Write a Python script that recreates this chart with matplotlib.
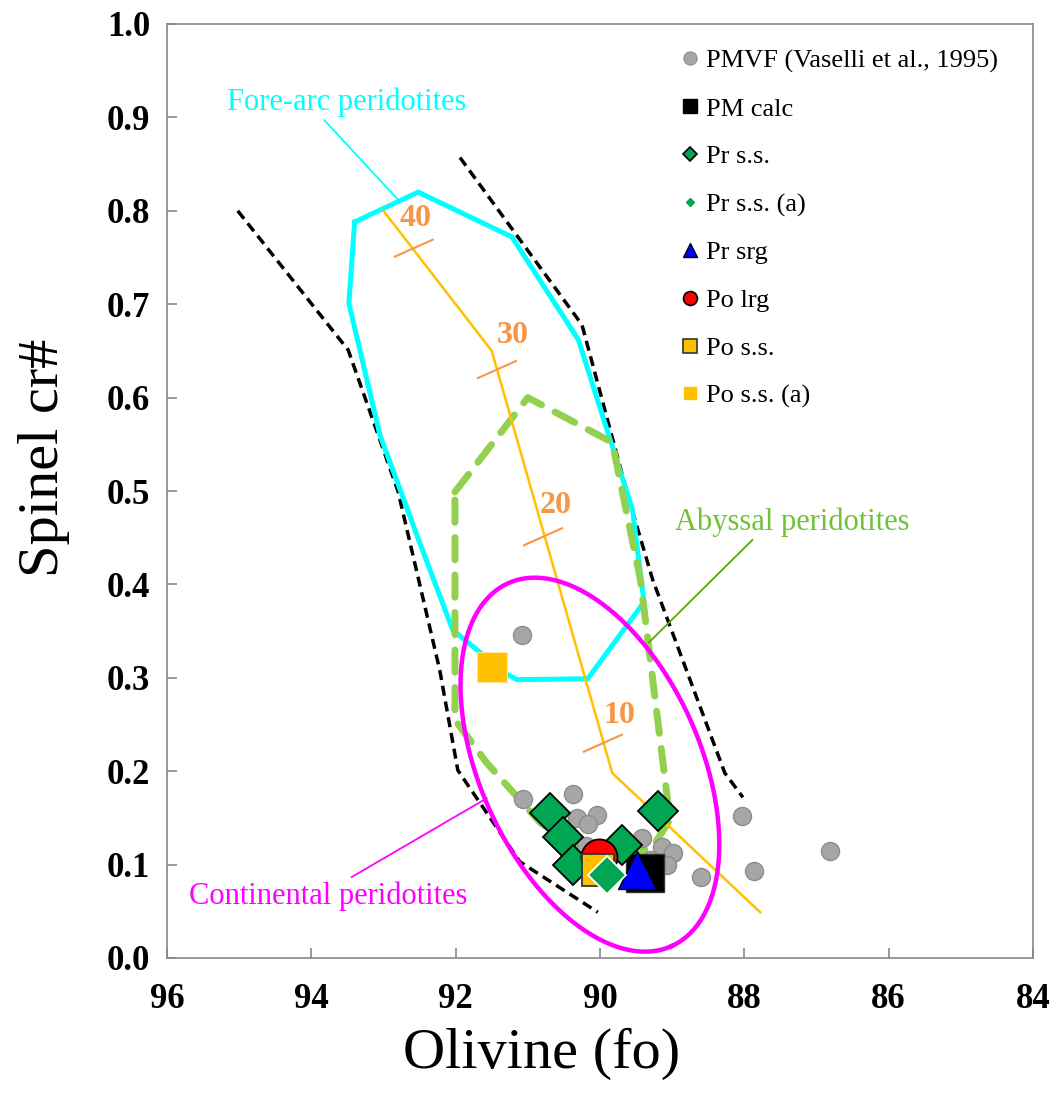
import numpy as np
import matplotlib
matplotlib.use("Agg")
import matplotlib.pyplot as plt
from matplotlib.lines import Line2D

plt.rcParams['font.family'] = ['Liberation Serif', 'DejaVu Serif']

# ---------------- data ----------------
fo_pmvf = [91.08, 91.07, 90.37, 90.32, 90.04, 90.17, 89.42, 89.14, 88.99, 89.07, 88.60, 88.03, 87.87, 86.81, 90.20, 89.30]
cr_pmvf = [0.346, 0.170, 0.176, 0.150, 0.153, 0.143, 0.128, 0.119, 0.112, 0.100, 0.087, 0.152, 0.093, 0.115, 0.120, 0.105]

fo_pm_calc = [89.38]
cr_pm_calc = [0.091]

fo_pr_ss = [90.69, 90.51, 90.37, 89.70, 89.20]
cr_pr_ss = [0.155, 0.130, 0.100, 0.121, 0.157]

fo_pr_ss_a = [89.90]
cr_pr_ss_a = [0.089]

fo_pr_srg = [89.49]
cr_pr_srg = [0.094]

fo_po_lrg = [90.01]
cr_po_lrg = [0.108]

fo_po_ss = [90.03]
cr_po_ss = [0.094]

fo_po_ss_a = [91.50]
cr_po_ss_a = [0.312]

# field boundaries (olivine fo, spinel cr#)
olm_left_fo = [95.02, 93.49, 92.80, 92.22, 91.97, 91.11, 90.03]
olm_left_cr = [0.800, 0.651, 0.500, 0.308, 0.201, 0.103, 0.049]
olm_right_fo = [91.94, 90.25, 89.61, 89.27, 88.27, 88.02]
olm_right_cr = [0.857, 0.678, 0.494, 0.405, 0.198, 0.172]

forearc_fo = [93.40, 92.52, 91.22, 90.30, 89.55, 89.39, 90.17, 91.15, 91.29, 92.04, 92.50, 93.05, 93.48, 93.40]
forearc_cr = [0.788, 0.820, 0.772, 0.662, 0.480, 0.381, 0.299, 0.298, 0.304, 0.351, 0.445, 0.560, 0.701, 0.788]

abyssal_fo = [92.01, 91.00, 89.83, 89.44, 89.03, 89.28, 90.00, 90.83, 91.57, 92.01, 92.01]
abyssal_cr = [0.499, 0.600, 0.552, 0.405, 0.148, 0.118, 0.102, 0.145, 0.209, 0.255, 0.499]

melt_fo = [93.00, 91.50, 89.83, 87.78]
melt_cr = [0.800, 0.650, 0.198, 0.049]

melt_pct = ['40', '30', '20', '10']
melt_tick_fo = [92.58, 91.43, 90.79, 89.96]
melt_tick_cr = [0.760, 0.630, 0.451, 0.230]
melt_label_fo = [92.56, 91.21, 90.62, 89.73]
melt_label_cr = [0.792, 0.666, 0.485, 0.260]

# field labels and leader lines
field_names = ['Fore-arc peridotites', 'Abyssal peridotites', 'Continental peridotites']
field_label_fo = [93.51, 87.34, 93.77]
field_label_cr = [0.9165, 0.467, 0.066]
leader_fo = [(93.82, 92.80), (87.89, 89.32), (93.44, 91.57)]
leader_cr = [(0.897, 0.812), (0.4475, 0.338), (0.0867, 0.171)]

# continental field ellipse: centre (fo, cr#), semi-axes in px, tilt in deg
ell_center = (90.14, 0.207)
ell_semi_px = (199, 110)
ell_angle = 65.75

xticks = [96, 94, 92, 90, 88, 86, 84]
yticks = [0.0, 0.1, 0.2, 0.3, 0.4, 0.5, 0.6, 0.7, 0.8, 0.9, 1.0]

# ---------------- figure ----------------
W, H = 1052, 1097
fig = plt.figure(figsize=(W / 100, H / 100), dpi=100)
L, R, T, B = 167, 1033, 24, 958
ax = fig.add_axes([L / W, 1 - B / H, (R - L) / W, (B - T) / H])
ax.set_xlim(96, 84)
ax.set_ylim(0, 1.0)

px_per_x = (R - L) / 12.0
px_per_y = (B - T) / 1.0

# boundaries
ax.plot(olm_left_fo, olm_left_cr, color='black', lw=2.5, dashes=(2.9, 1.7), zorder=2)
ax.plot(olm_right_fo, olm_right_cr, color='black', lw=2.5, dashes=(2.9, 1.7), zorder=2)
ax.plot(forearc_fo, forearc_cr, color='#00FFFF', lw=3.6, zorder=3, solid_joinstyle='miter')
ax.plot(abyssal_fo, abyssal_cr, color='#92D050', lw=5, dashes=(3.2, 2.2),
        dash_capstyle='round', zorder=3)
ax.plot(melt_fo, melt_cr, color='#FFC000', lw=1.8, zorder=3)

# ellipse (continental)
t = np.linspace(0, 2 * np.pi, 400)
th = np.deg2rad(ell_angle)
a, b = ell_semi_px
du = a * np.cos(t) * np.cos(th) - b * np.sin(t) * np.sin(th)   # screen px, right
dv = a * np.cos(t) * np.sin(th) + b * np.sin(t) * np.cos(th)   # screen px, down
ex = ell_center[0] - du / px_per_x
ey = ell_center[1] - dv / px_per_y
ax.plot(ex, ey, color='#FF00FF', lw=3.2, zorder=3)

# melting ticks and labels
hx = 19 / px_per_x
hy = 8.5 / px_per_y
for lab, fx, cy, lx, ly in zip(melt_pct, melt_tick_fo, melt_tick_cr, melt_label_fo, melt_label_cr):
    ax.plot([fx + hx, fx - hx], [cy - hy, cy + hy], color='#F79646', lw=1.5, zorder=3)
    ax.text(lx, ly, lab, ha='center', va='center', color='#F79646', fontsize=23,
            fontweight='bold', zorder=4)

# field labels with leader lines
field_colors = ['#00FFFF', '#70C13A', '#FF00FF']
leader_colors = ['#00FFFF', '#55AA00', '#FF00FF']
for name, lx, ly, lfo, lcr, c, lc in zip(field_names, field_label_fo, field_label_cr,
                                         leader_fo, leader_cr, field_colors, leader_colors):
    ax.text(lx, ly, name, ha='center', va='center', color=c, fontsize=22, zorder=4)
    ax.plot(lfo, lcr, color=lc, lw=1.3, zorder=3)

# data markers
ax.plot(fo_pmvf, cr_pmvf, ls='none', marker='o', ms=13, mfc='#A6A6A6', mec='#8C8C8C', mew=1, zorder=5)
ax.plot(fo_pm_calc, cr_pm_calc, ls='none', marker='s', ms=27, mfc='black', mec='#333333', mew=1, zorder=6)
ax.plot(fo_pr_ss, cr_pr_ss, ls='none', marker='D', ms=20, mfc='#00A651', mec='black', mew=1.3, zorder=7)
ax.plot(fo_pr_srg, cr_pr_srg, ls='none', marker='^', ms=27, mfc='#0000FF', mec='black', mew=1.0, zorder=8)
ax.plot(fo_po_lrg, cr_po_lrg, ls='none', marker='o', ms=26, mfc='#FF0000', mec='black', mew=1.3, zorder=8)
ax.plot(fo_po_ss, cr_po_ss, ls='none', marker='s', ms=23, mfc='#FFC000', mec='#333333', mew=1.3, zorder=9)
ax.plot(fo_pr_ss_a, cr_pr_ss_a, ls='none', marker='D', ms=19, mfc='#00A651', mec='white', mew=1.3, zorder=10)
ax.plot(fo_po_ss_a, cr_po_ss_a, ls='none', marker='s', ms=22, mfc='#FFC000', mec='#FFE699', mew=0.8, zorder=9)

# legend proxies
handles = [
    Line2D([], [], ls='none', marker='o', ms=9.5, mfc='#A6A6A6', mec='#8C8C8C', mew=0.8),
    Line2D([], [], ls='none', marker='s', ms=10, mfc='black', mec='black'),
    Line2D([], [], ls='none', marker='D', ms=7, mfc='#00A651', mec='black', mew=1.2),
    Line2D([], [], ls='none', marker='D', ms=4.5, mfc='#00A651', mec='#00A651'),
    Line2D([], [], ls='none', marker='^', ms=10.5, mfc='#0000FF', mec='black', mew=1.0),
    Line2D([], [], ls='none', marker='o', ms=10, mfc='#FF0000', mec='black', mew=1.2),
    Line2D([], [], ls='none', marker='s', ms=10, mfc='#FFC000', mec='#333333', mew=1.2),
    Line2D([], [], ls='none', marker='s', ms=8.5, mfc='#FFC000', mec='#FFC000'),
]
labels = ['PMVF (Vaselli et al., 1995)', 'PM calc', 'Pr s.s.', 'Pr s.s. (a)',
          'Pr srg', 'Po lrg', 'Po s.s.', 'Po s.s. (a)']
leg = ax.legend(handles, labels, loc='upper left',
                bbox_to_anchor=((682 - L) / (R - L), 1 - (49 - T) / (B - T)),
                frameon=False, fontsize=19, handlelength=0.6, handletextpad=0.3,
                labelspacing=0.92, borderaxespad=0, borderpad=0)

# axes styling
for s in ax.spines.values():
    s.set_color('#888888')
    s.set_linewidth(1.2)
ax.set_xticks(xticks)
ax.set_yticks(yticks)
ax.set_xticklabels([str(v) for v in xticks])
ax.set_yticklabels(['%.1f' % v for v in yticks])
ax.tick_params(axis='both', direction='in', length=7, width=1.2, color='#888888',
               labelsize=25, top=False, right=False)
ax.tick_params(axis='x', pad=18)
ax.tick_params(axis='y', pad=12)
for lab in ax.get_xticklabels() + ax.get_yticklabels():
    lab.set_fontweight('bold')

ax.set_xlabel('Olivine (fo)', fontsize=42)
ax.set_ylabel('Spinel cr#', fontsize=42)
ax.xaxis.set_label_coords((542 - L) / (R - L), -(1028 - B) / (B - T))
ax.yaxis.set_label_coords((70 - L) / (R - L), (B - 458) / (B - T))

fig.savefig('out.png', dpi=100)
